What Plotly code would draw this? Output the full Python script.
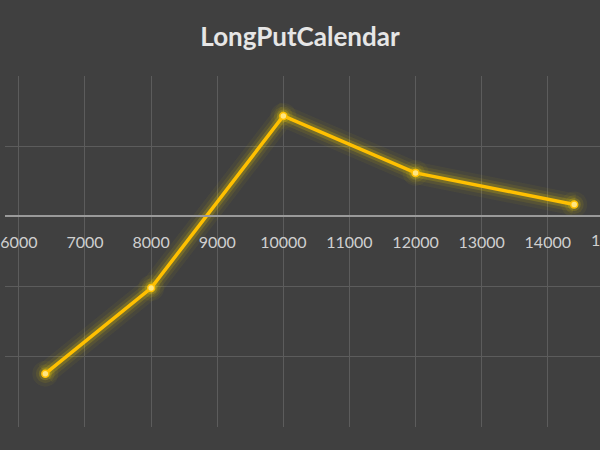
import plotly.graph_objects as go

strikes = [6400, 8000, 10000, 12000, 14400]
pnl = [-224, -102, 143, 62, 17]
x_ticks = [6000, 7000, 8000, 9000, 10000, 11000, 12000, 13000, 14000, 15000]
title_text = "LongPutCalendar"

LINE = "#FFC000"
FONT = "Lato, Open Sans, sans-serif"
XR = [5790, 14790]
YR = [-300, 200]
fig = go.Figure()
# glow layers
for w, a in [(22, 0.05), (15, 0.09), (9, 0.20)]:
    fig.add_trace(go.Scatter(x=strikes, y=pnl, mode="lines+markers",
                             line=dict(color=f"rgba(240,210,0,{a})", width=w),
                             marker=dict(size=w + 4, color=f"rgba(240,210,0,{a})"),
                             hoverinfo="skip", showlegend=False))
fig.add_trace(go.Scatter(x=strikes, y=pnl, mode="lines+markers",
                         line=dict(color=LINE, width=3.5),
                         marker=dict(size=7, color="#FFE680", line=dict(color=LINE, width=1.5)),
                         showlegend=False))

zero_pos = (0 - YR[0]) / (YR[1] - YR[0])
fig.update_layout(
    width=600, height=450,
    paper_bgcolor="#404040", plot_bgcolor="#404040",
    margin=dict(l=0, r=0, t=76, b=23),
    title=dict(text=f"<b>{title_text}</b>", x=0.5, xanchor="center", y=0.918, yanchor="middle",
               font=dict(family=FONT, size=26, color="#e6e6e6")),
    xaxis=dict(range=XR, tickvals=x_ticks, ticktext=[str(v) for v in x_ticks],
               showgrid=True, gridcolor="#5c5c5c", gridwidth=1, zeroline=False,
               showline=True, linecolor="#9a9a9a", linewidth=1.5,
               anchor="free", position=zero_pos, ticks="", ticklen=0,
               ticklabeloverflow="allow", ticklabelstandoff=12,
               tickfont=dict(family=FONT, size=16, color="#d0d0d0")),
    yaxis=dict(range=YR, dtick=100, showgrid=True, gridcolor="#5c5c5c", gridwidth=1,
               zeroline=False, showticklabels=False, showline=False),
)
# last tick label (15000) sits just past the visible right edge
fig.add_annotation(text=str(x_ticks[-1]), xref="paper", yref="paper",
                   x=(x_ticks[-1] - XR[0]) / (XR[1] - XR[0]), y=zero_pos, xanchor="center", yanchor="top",
                   yshift=-12, showarrow=False, font=dict(family=FONT, size=16, color="#d0d0d0"))
fig.write_html("out.html", config={"displayModeBar": False},
               post_script="document.body.style.margin='0';")
